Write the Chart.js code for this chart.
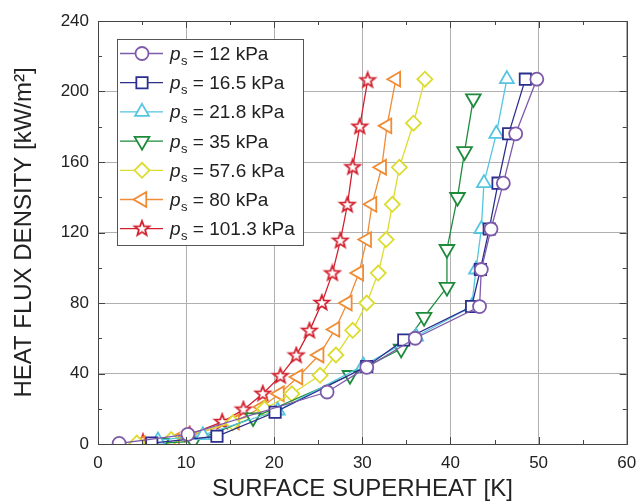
<!DOCTYPE html>
<html><head><meta charset="utf-8">
<script src="https://cdn.jsdelivr.net/npm/chart.js@4.4.1/dist/chart.umd.min.js"></script>
<style>html,body{margin:0;padding:0;background:#fff;}</style>
</head><body>
<canvas id="c" width="637" height="504"></canvas>
<script>
// ---- data (superheat K, heat flux kW/m2) ----
const pressures = ['12', '16.5', '21.8', '35', '57.6', '80', '101.3'];
const dT_12   = [2.4, 10.2, 26.0, 30.5, 36.0, 43.3, 43.5, 44.6, 46.0, 47.4, 49.8];
const q_12    = [0.3, 5.5, 29.5, 43.5, 60, 78, 99, 122, 148, 176, 207];
const dT_16_5 = [6.1, 13.5, 20.1, 30.5, 34.7, 42.4, 43.4, 44.4, 45.4, 46.6, 48.5];
const q_16_5  = [0.5, 4.4, 18, 44, 59, 78, 99, 122, 148, 176, 207];
const dT_21_8 = [6.8, 11.9, 20.4, 30.1, 36.1, 42.4, 42.9, 43.5, 43.8, 45.2, 46.4];
const q_21_8  = [2, 5, 19, 44.5, 61, 78, 99, 122, 148, 176, 207];
const dT_35   = [7.2, 10.8, 17.6, 28.6, 34.4, 37.0, 39.6, 39.6, 40.8, 41.6, 42.6];
const q_35    = [0.5, 1.5, 15, 39, 54, 72, 89, 110.5, 140, 166, 196];
const dT_57_6 = [4.4, 8.3, 15.3, 18.9, 22.0, 25.2, 27.0, 28.9, 30.5, 31.8, 32.7, 33.4, 34.2, 35.8, 37.1];
const q_57_6  = [0.5, 2.5, 12, 20, 28.5, 39, 50.5, 64.5, 80, 97, 116, 136, 157, 182, 207];
const dT_80   = [4.8, 8.7, 15.5, 18.6, 20.6, 22.7, 25.1, 26.9, 28.3, 29.6, 30.5, 31.1, 32.2, 32.8, 33.8];
const q_80    = [0.3, 2, 12.5, 21, 28.5, 38, 50.5, 65, 80, 97, 116, 136, 157, 180.5, 207];
const dT_101  = [5.1, 10.4, 14.1, 16.5, 18.7, 20.7, 22.5, 24.0, 25.4, 26.6, 27.5, 28.3, 28.9, 29.7, 30.6];
const q_101   = [1, 5.3, 12.5, 19.5, 28.5, 38.5, 50.2, 64.2, 80, 96.8, 115.3, 135.6, 157, 180, 206.3];

const xTickValues = [0, 10, 20, 30, 40, 50, 60];
const yTickValues = [0, 40, 80, 120, 160, 200, 240];

const FONT = "'Liberation Sans', Arial, sans-serif";
Chart.defaults.font.family = FONT;

function makeStar(color) {
  const c = document.createElement('canvas');
  c.width = 20; c.height = 20;
  const g = c.getContext('2d');
  g.beginPath();
  for (let i = 0; i < 10; i++) {
    const r = i % 2 ? 3.3 : 7.8;
    const a = -Math.PI / 2 + i * Math.PI / 5;
    g.lineTo(10 + r * Math.cos(a), 10 + r * Math.sin(a));
  }
  g.closePath();
  g.fillStyle = '#fff'; g.fill();
  g.lineWidth = 1.8; g.strokeStyle = color; g.lineJoin = 'miter'; g.stroke();
  return c;
}

const colors = ['#7E5BAA', '#2B2E8C', '#55C5E0', '#1E8A3C', '#DCDC30', '#F08C35', '#D2202E'];
const styles = [
  {ps: 'circle', r: 6.5, rot: 0},
  {ps: 'rect', r: 8, rot: 0},
  {ps: 'triangle', r: 8, rot: 0},
  {ps: 'triangle', r: 8.5, rot: 180},
  {ps: 'rectRot', r: 7.5, rot: 0},
  {ps: 'triangle', r: 8.5, rot: -90},
  {ps: makeStar(colors[6]), r: 7, rot: 0}
];
const xs = [dT_12, dT_16_5, dT_21_8, dT_35, dT_57_6, dT_80, dT_101];
const ys = [q_12, q_16_5, q_21_8, q_35, q_57_6, q_80, q_101];

const datasets = pressures.map((p, k) => ({
  label: 'ps = ' + p + ' kPa',
  data: xs[k].map((x, i) => ({x: x, y: ys[k][i]})),
  borderColor: colors[k],
  backgroundColor: '#fff',
  borderWidth: 1.3,
  pointStyle: styles[k].ps,
  pointRadius: styles[k].r,
  pointRotation: styles[k].rot,
  pointBorderColor: colors[k],
  pointBackgroundColor: '#fff',
  pointBorderWidth: 1.8,
  tension: 0,
  fill: false
}));

function legendMarker(ctx, st, x, y, color) {
  if (typeof st.ps !== 'string') { ctx.drawImage(st.ps, x - st.ps.width / 2, y - st.ps.height / 2); return; }
  const r = st.r; let rad = st.rot * Math.PI / 180;
  ctx.beginPath();
  if (st.ps === 'circle') ctx.arc(x, y, r, 0, Math.PI * 2);
  else if (st.ps === 'rect') { const s = Math.SQRT1_2 * r; ctx.rect(x - s, y - s, 2 * s, 2 * s); }
  else if (st.ps === 'rectRot') { ctx.moveTo(x - r, y); ctx.lineTo(x, y - r); ctx.lineTo(x + r, y); ctx.lineTo(x, y + r); ctx.closePath(); }
  else if (st.ps === 'triangle') {
    for (let i = 0; i < 3; i++) { const px = x + Math.sin(rad) * r, py = y - Math.cos(rad) * r; i ? ctx.lineTo(px, py) : ctx.moveTo(px, py); rad += 2 * Math.PI / 3; }
    ctx.closePath();
  }
  ctx.fillStyle = '#fff'; ctx.fill();
  ctx.lineWidth = 1.8; ctx.strokeStyle = color; ctx.stroke();
}

const framePlugin = {
  id: 'frame',
  afterDraw(chart) {
    const {ctx, chartArea: a, scales: {x, y}} = chart;
    ctx.save();
    ctx.strokeStyle = '#444'; ctx.lineWidth = 1;
    // inward ticks
    ctx.beginPath();
    for (let v = 0; v <= 60; v += 5) {
      const px = Math.round(x.getPixelForValue(v)) + 0.5;
      const len = v % 10 === 0 ? 7 : 4;
      ctx.moveTo(px, a.bottom); ctx.lineTo(px, a.bottom - len);
      ctx.moveTo(px, a.top); ctx.lineTo(px, a.top + len);
    }
    for (let v = 0; v <= 240; v += 20) {
      const py = Math.round(y.getPixelForValue(v)) + 0.5;
      const len = v % 40 === 0 ? 7 : 4;
      ctx.moveTo(a.left, py); ctx.lineTo(a.left + len, py);
      ctx.moveTo(a.right, py); ctx.lineTo(a.right - len, py);
    }
    ctx.stroke();
    ctx.strokeRect(Math.round(a.left) + 0.5, Math.round(a.top) + 0.5, Math.round(a.right - a.left), Math.round(a.bottom - a.top));

    // legend
    const bx = 117.5, by = 39.5, bw = 186, bh = 206;
    ctx.fillStyle = '#fff'; ctx.fillRect(bx, by, bw, bh);
    ctx.strokeStyle = '#555'; ctx.strokeRect(bx, by, bw, bh);
    pressures.forEach((p, k) => {
      const cy = 53.5 + k * 29.2;
      ctx.strokeStyle = colors[k]; ctx.lineWidth = 1.3;
      ctx.beginPath(); ctx.moveTo(120, cy); ctx.lineTo(163, cy); ctx.stroke();
      legendMarker(ctx, styles[k], 142, cy, colors[k]);
      ctx.fillStyle = '#222'; ctx.textBaseline = 'alphabetic'; ctx.textAlign = 'left';
      let tx = 170; const base = cy + 6.5;
      ctx.font = "italic 19px " + FONT; ctx.fillText('p', tx, base); tx += ctx.measureText('p').width + 0.5;
      ctx.font = "13px " + FONT; ctx.fillText('s', tx, base + 5); tx += ctx.measureText('s').width;
      ctx.font = "19px " + FONT; ctx.fillText(' = ' + p + ' kPa', tx, base);
    });
    ctx.restore();
  }
};

new Chart(document.getElementById('c'), {
  type: 'line',
  data: {datasets},
  plugins: [framePlugin],
  options: {
    responsive: false,
    animation: false,
    devicePixelRatio: 1,
    layout: {padding: {top: 21, right: 1, left: 0, bottom: 0}},
    plugins: {legend: {display: false}, tooltip: {enabled: false}},
    scales: {
      x: {
        type: 'linear', min: 0, max: 60,
        afterBuildTicks(s) { s.ticks = xTickValues.map(v => ({value: v})); },
        afterFit(s) { s.height = 60; s.paddingRight = 10; s.paddingLeft = 0; },
        ticks: {font: {size: 17}, color: '#222', padding: 9},
        grid: {color: '#b0b0b0', drawTicks: false},
        border: {display: true, color: '#444'},
        title: {display: true, text: 'SURFACE SUPERHEAT [K]', font: {size: 24}, color: '#222', padding: {top: 0, bottom: 0}}
      },
      y: {
        type: 'linear', min: 0, max: 240,
        afterBuildTicks(s) { s.ticks = yTickValues.map(v => ({value: v})); },
        afterFit(s) { s.width = 98; },
        ticks: {font: {size: 17}, color: '#222', padding: 9},
        grid: {color: '#b0b0b0', drawTicks: false},
        border: {display: true, color: '#444'},
        title: {display: true, text: 'HEAT FLUX DENSITY [kW/m²]', font: {size: 24}, color: '#222', padding: {top: 10, bottom: 0}}
      }
    }
  }
});
</script>
</body></html>
